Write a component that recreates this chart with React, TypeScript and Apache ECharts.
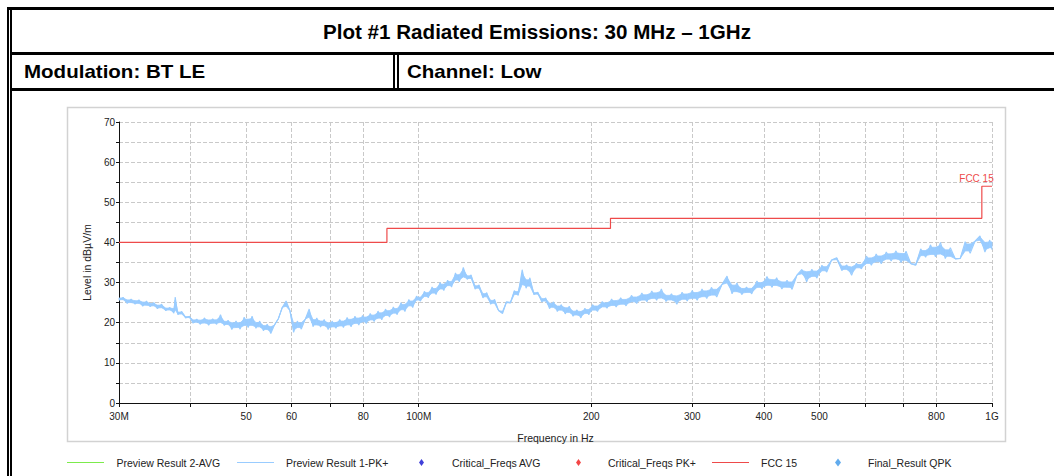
import React, { useEffect, useRef } from 'react';
import * as echarts from 'echarts';

// ---------- texts ----------
const TITLE = 'Plot #1 Radiated Emissions: 30 MHz – 1GHz';
const MODULATION = 'Modulation: BT LE';
const CHANNEL = 'Channel: Low';
const X_NAME = 'Frequency in Hz';
const Y_NAME = 'Level in dBµV/m';
const LIMIT_LABEL = 'FCC 15';

const SERIES_NAMES = [
  'Preview Result 2-AVG',
  'Preview Result 1-PK+',
  'Critical_Freqs AVG',
  'Critical_Freqs PK+',
  'FCC 15',
  'Final_Result QPK',
];

// ---------- axes ----------
const X_TICKS_MHZ = [30, 40, 50, 60, 70, 80, 100, 200, 300, 400, 500, 600, 700, 800, 1000];
const X_LABELS_MHZ = [30, 50, 60, 80, 100, 200, 300, 400, 500, 800, 1000];
const X_LABEL_TEXT = ['30M', '50', '60', '80', '100M', '200', '300', '400', '500', '800', '1G'];
const X_MIN_MHZ = 30;
const X_MAX_MHZ = 1000;
const Y_MIN = 0;
const Y_MAX = 70;
const Y_STEP = 5;

// ---------- FCC 15 limit (step) ----------
const FCC_FREQ_MHZ = [30, 88, 216, 960, 1000];
const FCC_LIMIT_DBUV = [40, 43.5, 46, 54, 54];

// ---------- Preview Result 1-PK+ ----------
const PK_FREQ_MHZ = [
  30, 30.5, 31, 31.5, 32, 32.5, 33, 33.5, 34, 34.5, 35, 35.6, 36.2, 36.8, 37.4, 37.6, 38, 38.6, 39.2, 39.8,
  40.4, 41, 41.6, 42.3, 43, 43.7, 44.4, 45.1, 45.8, 46.5, 47.2, 48, 48.8, 49.6,
  50.4, 51.2, 52, 52.8, 53.6, 54.4, 55.2, 56, 56.9, 57.8, 58.7, 59.6,
  60.5, 61.4, 62.4, 63.4, 64.4, 65.4, 66.4, 67.4, 68.4, 69.5,
  70.6, 71.7, 72.8, 73.9, 75, 76.2, 77.4, 78.6, 79.8,
  81, 82.3, 83.6, 84.9, 86.2, 87.5, 88.9, 90.3, 91.7, 93.1, 94.6, 96.1, 97.6, 99.1,
  100.7, 102.3, 103.9, 105.5, 107.2, 108.9, 110.6, 112.3, 114.1, 115.9, 117.7, 119.6, 121.5, 123.4, 125.4, 127.4, 129.4, 131.4, 133.5, 135.6, 137.8, 140,
  142.2, 144.5, 146.8, 149.1, 151.5, 153.9, 156.3, 158.8, 161.3, 163.9, 166.5, 169.1, 171.8, 174.5, 177.3, 180.1, 183, 185.9, 188.8, 191.8, 194.9, 198,
  201, 205, 209, 213, 217, 221, 225, 230, 235, 240, 245, 250, 255, 260, 265, 270, 276, 282, 288, 294, 300,
  306, 312, 318, 324, 331, 338, 345, 352, 359, 366, 373, 381, 389, 397, 405, 413, 421, 430, 439, 448,
  457, 466, 475, 485, 495, 505, 515, 525, 536, 547, 558, 569, 580, 592, 604, 616, 628, 641, 654, 667,
  680, 694, 708, 722, 736, 751, 766, 781, 797, 813, 829, 846, 863, 880, 898, 916, 934, 953, 972, 991, 1000,
];
const PK_LEVEL_DBUV = [
  25.6, 26.3, 24.8, 25.9, 24.6, 25.7, 24.1, 25.4, 24.0, 25.0, 23.5, 24.6, 23.0, 23.8, 22.4, 26.4, 22.0, 22.8, 21.2, 21.6,
  19.9, 20.9, 19.6, 21.2, 19.4, 21.0, 19.6, 22.0, 19.3, 20.6, 18.3, 20.4, 18.4, 21.4,
  18.8, 21.6, 18.6, 20.4, 18.0, 19.6, 17.3, 19.4, 21.0, 23.8, 25.4, 23.0,
  17.6, 20.4, 18.4, 20.9, 23.4, 19.0, 21.2, 18.9, 20.8, 18.3,
  20.4, 18.6, 20.8, 18.8, 21.3, 19.0, 21.6, 19.4, 21.8,
  19.8, 22.3, 20.3, 22.9, 20.7, 23.4, 21.4, 23.9, 22.0, 25.0, 22.8, 25.8, 23.8, 26.6,
  25.4, 27.8, 26.2, 28.9, 27.0, 30.0, 28.0, 30.6, 28.9, 32.4, 30.2, 33.8, 30.8, 31.9, 28.4, 29.4, 26.2, 27.5, 24.6, 25.8, 23.0, 22.3,
  25.2, 24.9, 28.0, 26.8, 33.2, 28.6, 31.2, 27.0, 27.6, 25.2, 26.2, 23.5, 25.2, 22.8, 24.5, 22.2, 24.1, 21.6, 23.2, 21.2, 23.6, 22.0,
  24.5, 22.8, 25.3, 23.6, 25.9, 23.9, 26.2, 24.2, 26.8, 24.8, 27.4, 25.2, 27.9, 25.6, 28.4, 25.3, 27.2, 24.6, 27.6, 25.4, 28.0,
  25.6, 28.4, 26.0, 28.8, 26.4, 29.5, 31.6, 27.2, 29.9, 27.0, 28.9, 27.2, 30.4, 28.4, 31.5, 28.8, 31.2, 28.4, 30.6, 28.3,
  31.9, 33.3, 30.2, 33.3, 31.1, 34.3, 32.6, 35.6, 36.2, 33.0, 34.4, 31.8, 34.8, 33.4, 36.6, 34.3, 37.1, 34.7, 37.6, 35.4,
  37.9, 35.0, 37.8, 34.7, 34.3, 38.4, 36.3, 39.4, 36.4, 40.0, 36.0, 38.7, 35.9, 36.0, 40.2, 37.3, 40.3, 41.6, 37.6, 40.6, 38.2,
];

// empty result series (legend only, as in the reference)
const AVG_POINTS: number[][] = [];
const CRIT_AVG_POINTS: number[][] = [];
const CRIT_PK_POINTS: number[][] = [];
const QPK_POINTS: number[][] = [];

const FONT = '"Liberation Sans", Arial, Helvetica, sans-serif';
const PK_COLOR = '#99CCFF';
const FCC_COLOR = '#EE4A4A';
const BAND_SHARE = 0.6; // share of the local sweep spread drawn solid
const lg = (f: number) => Math.log10(f);

function buildOption() {
  const n = Math.min(PK_FREQ_MHZ.length, PK_LEVEL_DBUV.length);
  const xs: number[] = [];
  const vs: number[] = [];
  for (let i = 0; i < n; i++) { xs.push(lg(PK_FREQ_MHZ[i])); vs.push(PK_LEVEL_DBUV[i]); }
  const pkData = xs.map((x, i) => [x, vs[i]]);

  // dense-sweep look: fill the core of the spread between neighbouring samples
  const lo: number[] = [];
  const hi: number[] = [];
  for (let i = 0; i < n; i++) {
    const a = i > 0 ? vs[i - 1] : vs[i + 1];
    const c = i < n - 1 ? vs[i + 1] : vs[i - 1];
    const h = Math.max(vs[i], Math.min(a, c));
    const l = Math.min(vs[i], Math.max(a, c));
    const m = (h + l) / 2;
    hi.push(m + ((h - l) / 2) * BAND_SHARE);
    lo.push(m - ((h - l) / 2) * BAND_SHARE);
  }
  const bandData: number[][] = [];
  for (let i = 0; i < n - 1; i++) bandData.push([xs[i], lo[i], hi[i], xs[i + 1], lo[i + 1], hi[i + 1]]);

  const fccData = FCC_FREQ_MHZ.map((f, i) => [lg(f), FCC_LIMIT_DBUV[i]]);

  const labelFor = (v: number) => {
    let best = -1;
    let bd = Infinity;
    X_LABELS_MHZ.forEach((t, i) => {
      const d = Math.abs(Math.log10(t) - v);
      if (d < bd) { bd = d; best = i; }
    });
    return best >= 0 && bd < 1e-6 ? X_LABEL_TEXT[best] : String(Math.round(Math.pow(10, v)));
  };

  const legendSpec = [
    { left: 67, icon: 'rect', w: 37, h: 1, pad: 7.5 },
    { left: 237, icon: 'rect', w: 37, h: 1, pad: 7 },
    { left: 419, icon: 'diamond', w: 5, h: 7, pad: 23 },
    { left: 576, icon: 'diamond', w: 5, h: 7, pad: 22 },
    { left: 712, icon: 'rect', w: 37, h: 1, pad: 7 },
    { left: 835, icon: 'diamond', w: 6, h: 8, pad: 22 },
  ];

  const legends = legendSpec.map((s, i) => ({
    data: [SERIES_NAMES[i]],
    left: s.left,
    top: 457,
    padding: 0,
    itemWidth: s.w,
    itemHeight: s.h,
    icon: s.icon,
    selectedMode: false,
    textStyle: { fontSize: 10.5, color: '#222', fontFamily: FONT, padding: [0, 0, 0, s.pad] },
  }));

  const black = '#111';
  const frame = '#000';

  return {
    animation: false,
    backgroundColor: '#ffffff',
    textStyle: { fontFamily: FONT },
    grid: {
      left: 119, right: 62, top: 122, bottom: 73,
      containLabel: false,
      outerBoundsMode: 'none',
    },
    legend: legends,
    xAxis: {
      type: 'value',
      min: lg(X_MIN_MHZ),
      max: lg(X_MAX_MHZ),
      name: X_NAME,
      nameLocation: 'middle',
      nameGap: 29,
      nameTextStyle: { fontSize: 10.5, color: '#222', fontFamily: FONT, verticalAlign: 'top' },
      axisLine: { show: true, onZero: false, lineStyle: { color: black, width: 1 } },
      axisTick: { show: true, inside: false, length: 4, customValues: X_TICKS_MHZ.map(lg), lineStyle: { color: black } },
      axisLabel: {
        show: true,
        customValues: X_LABELS_MHZ.map(lg),
        formatter: (v: number) => labelFor(v),
        fontSize: 10,
        color: '#222',
        fontFamily: FONT,
        margin: 8,
        hideOverlap: false,
      },
      splitLine: { show: true, lineStyle: { color: '#c9c9c9', type: [4, 2], width: 1 } },
    },
    yAxis: {
      type: 'value',
      min: Y_MIN,
      max: Y_MAX,
      interval: Y_STEP,
      name: Y_NAME,
      nameLocation: 'middle',
      nameGap: 24,
      nameRotate: 90,
      nameTextStyle: { fontSize: 10.5, color: '#222', fontFamily: FONT },
      axisLine: { show: true, onZero: false, lineStyle: { color: black, width: 1 } },
      axisTick: { show: true, inside: false, length: 3, lineStyle: { color: black } },
      axisLabel: {
        show: true,
        formatter: (v: number) => (v % 10 === 0 ? String(v) : ''),
        fontSize: 10,
        color: '#222',
        fontFamily: FONT,
        margin: 4,
      },
      splitLine: { show: true, lineStyle: { color: '#c9c9c9', type: [4, 2], width: 1 } },
    },
    series: [
      {
        name: SERIES_NAMES[0], type: 'line', data: AVG_POINTS, showSymbol: false,
        color: '#7CEB4C', itemStyle: { color: '#7CEB4C' }, lineStyle: { color: '#7CEB4C', width: 1 },
      },
      {
        name: 'pk-envelope',
        type: 'custom',
        silent: true,
        z: 2,
        encode: { x: [0, 3], y: [1, 2, 4, 5] },
        data: bandData,
        renderItem: (_params: any, api: any) => {
          const p1 = api.coord([api.value(0), api.value(1)]);
          const p2 = api.coord([api.value(3), api.value(4)]);
          const p3 = api.coord([api.value(3), api.value(5)]);
          const p4 = api.coord([api.value(0), api.value(2)]);
          return {
            type: 'polygon',
            shape: { points: [p1, p2, p3, p4] },
            style: { fill: PK_COLOR, stroke: PK_COLOR, lineWidth: 0.8 },
          };
        },
      },
      {
        name: SERIES_NAMES[1], type: 'line', data: pkData, showSymbol: false, symbol: 'none',
        color: PK_COLOR, itemStyle: { color: PK_COLOR }, lineStyle: { color: PK_COLOR, width: 1.1 },
        z: 3,
      },
      {
        name: SERIES_NAMES[2], type: 'scatter', data: CRIT_AVG_POINTS, symbol: 'diamond',
        color: '#1010D0', itemStyle: { color: '#1010D0' },
      },
      {
        name: SERIES_NAMES[3], type: 'scatter', data: CRIT_PK_POINTS, symbol: 'diamond',
        color: '#F01818', itemStyle: { color: '#F01818' },
      },
      {
        name: SERIES_NAMES[4], type: 'line', data: fccData, step: 'end', showSymbol: false, symbol: 'none',
        color: FCC_COLOR, itemStyle: { color: FCC_COLOR }, lineStyle: { color: FCC_COLOR, width: 1.2 },
        z: 4,
        markPoint: {
          symbol: 'circle',
          symbolSize: 1,
          itemStyle: { color: 'rgba(0,0,0,0)' },
          data: [{ coord: [lg(X_MAX_MHZ), FCC_LIMIT_DBUV[FCC_LIMIT_DBUV.length - 1]] }],
          label: {
            show: true,
            formatter: LIMIT_LABEL,
            position: 'top',
            distance: 2,
            offset: [-15.5, 0],
            fontSize: 10,
            color: FCC_COLOR,
            fontFamily: FONT,
          },
        },
      },
      {
        name: SERIES_NAMES[5], type: 'scatter', data: QPK_POINTS, symbol: 'diamond',
        color: '#3A96E8', itemStyle: { color: '#3A96E8' },
      },
    ],
    graphic: [
      // plot box
      { type: 'rect', shape: { x: 67.5, y: 107.5, width: 938, height: 334 }, style: { fill: 'none', stroke: '#d2d2d2', lineWidth: 1.5 }, z: -1 },
      // frame
      { type: 'rect', shape: { x: 7, y: 7, width: 1047, height: 3 }, style: { fill: frame } },
      { type: 'rect', shape: { x: 7, y: 7, width: 2, height: 469 }, style: { fill: frame } },
      { type: 'rect', shape: { x: 10, y: 10, width: 2, height: 466 }, style: { fill: frame } },
      { type: 'rect', shape: { x: 10, y: 52, width: 1044, height: 3 }, style: { fill: frame } },
      { type: 'rect', shape: { x: 10, y: 88, width: 1044, height: 3 }, style: { fill: frame } },
      { type: 'rect', shape: { x: 393, y: 55, width: 2, height: 33 }, style: { fill: frame } },
      { type: 'rect', shape: { x: 397, y: 55, width: 2, height: 33 }, style: { fill: frame } },
      {
        type: 'text', x: 537, y: 32, scaleX: 1.03,
        style: { text: TITLE, fontSize: 20, fontWeight: 'bold', fontFamily: FONT, fill: '#000', textAlign: 'center', textVerticalAlign: 'middle', verticalAlign: 'middle' },
      },
      {
        type: 'text', x: 24, y: 72, scaleX: 1.14,
        style: { text: MODULATION, fontSize: 18, fontWeight: 'bold', fontFamily: FONT, fill: '#000', textAlign: 'left', textVerticalAlign: 'middle', verticalAlign: 'middle' },
      },
      {
        type: 'text', x: 407, y: 72, scaleX: 1.14,
        style: { text: CHANNEL, fontSize: 18, fontWeight: 'bold', fontFamily: FONT, fill: '#000', textAlign: 'left', textVerticalAlign: 'middle', verticalAlign: 'middle' },
      },
    ],
  };
}

export default function App() {
  const ref = useRef<HTMLDivElement>(null);
  useEffect(() => {
    if (!ref.current) return;
    const chart = echarts.init(ref.current, null, { renderer: 'svg' });
    chart.setOption(buildOption() as any);
    return () => chart.dispose();
  }, []);
  return (
    <div
      ref={ref}
      style={{ position: 'fixed', left: 0, top: 0, width: 1054, height: 476, background: '#fff' }}
    />
  );
}
